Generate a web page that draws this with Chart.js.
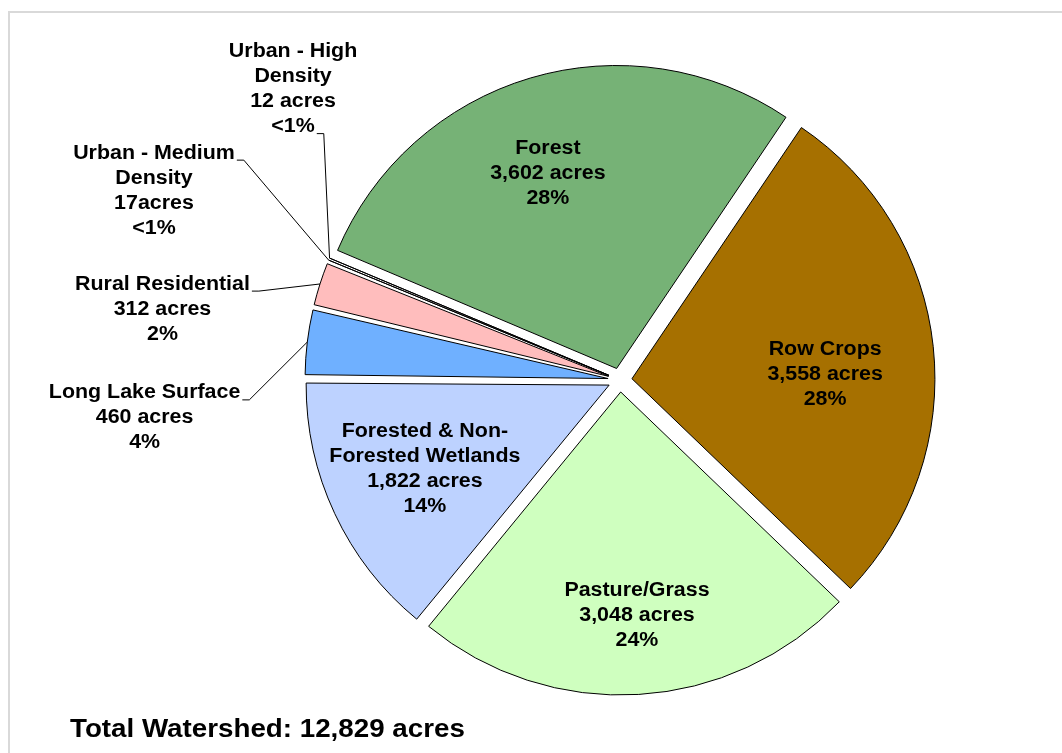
<!DOCTYPE html>
<html>
<head>
<meta charset="utf-8">
<script src="https://cdn.jsdelivr.net/npm/chart.js@4.4.0/dist/chart.umd.min.js"></script>
<style>
  html, body { margin: 0; padding: 0; background: #fff; }
  body { width: 1062px; height: 753px; position: relative; overflow: hidden; }
  #frame { position: absolute; left: 8px; top: 11px; width: 1100px; height: 800px; border: 2px solid #d9d9d9; box-sizing: border-box; }
  #landUseChart { position: absolute; left: 0; top: 0; }
</style>
</head>
<body>
<div id="frame"></div>
<canvas id="landUseChart" width="1062" height="753"></canvas>
<script>
// slices go clockwise, starting with Row Crops
const categories = [
  ['Row Crops'],
  ['Pasture/Grass'],
  ['Forested & Non-', 'Forested Wetlands'],
  ['Long Lake Surface'],
  ['Rural Residential'],
  ['Urban - Medium', 'Density'],
  ['Urban - High', 'Density'],
  ['Forest']
];
const acres = [3558, 3048, 1822, 460, 312, 17, 12, 3602];
const acreLabels = ['3,558 acres', '3,048 acres', '1,822 acres', '460 acres', '312 acres', '17acres', '12 acres', '3,602 acres'];
const sliceColors = ['#A67000', '#CFFFBF', '#BDD2FF', '#6FB0FF', '#FFBDBD', '#5A0000', '#FF0000', '#76B276'];
const totalLabel = 'Total Watershed: 12,829 acres';

const EXPLODE = 48;   // chart.js moves a slice by offset/4
const LINE_H = 25;
const STRETCH = 1.07;

// label centre as a fraction of the radius from the pie centre
const labelLayout = [
  { fx: 0.677, fy: -0.017 },
  { fx: 0.056, fy: 0.776 },
  { fx: -0.644, fy: 0.294 },
  { fx: -1.569, fy: 0.125, leader: 0 },
  { fx: -1.510, fy: -0.234, leader: 0 },
  { fx: -1.538, fy: -0.625, leader: 0 },
  { fx: -1.079, fy: -0.960, leader: 3 },
  { fx: -0.238, fy: -0.683 }
];

function growth(arc) {
  return (EXPLODE / 4) * (1 - Math.sin(Math.min(Math.PI, arc.circumference)));
}

function drawStretched(ctx, text, x, y, sx) {
  ctx.save();
  ctx.translate(x, y);
  ctx.scale(sx, 1);
  ctx.fillText(text, 0, 0);
  ctx.restore();
}

const sliceLabels = {
  id: 'sliceLabels',
  afterDatasetsUpdate(chart) {
    // chart.js grows thin exploded slices, keep them all on one radius
    chart.getDatasetMeta(0).data.forEach(arc => {
      arc.outerRadius -= growth(arc);
    });
  },
  afterDraw(chart) {
    const ctx = chart.ctx;
    const meta = chart.getDatasetMeta(0);
    const total = acres.reduce((a, b) => a + b, 0);
    ctx.save();
    ctx.font = 'bold 20px "Liberation Sans", Arial, sans-serif';
    ctx.fillStyle = '#000';
    ctx.strokeStyle = '#000';
    ctx.lineWidth = 1;
    ctx.textAlign = 'center';
    ctx.textBaseline = 'middle';
    meta.data.forEach((arc, i) => {
      const r = arc.outerRadius + growth(arc);
      const pct = acres[i] / total * 100;
      const lines = [...categories[i], acreLabels[i], pct < 1 ? '<1%' : Math.round(pct) + '%'];
      const pos = labelLayout[i];
      const cx = arc.x + pos.fx * r;
      const cy = arc.y + pos.fy * r;
      const top = cy - (lines.length - 1) * LINE_H / 2;
      lines.forEach((t, k) => drawStretched(ctx, t, cx, top + k * LINE_H, STRETCH));
      if (pos.leader !== undefined) {
        const k = pos.leader;
        const w = ctx.measureText(lines[k]).width * STRETCH;
        const sx = cx + w / 2 + 2;
        const sy = top + k * LINE_H + 7;
        const mid = (arc.startAngle + arc.endAngle) / 2;
        const tr = r + EXPLODE / 4;
        const ex = arc.x + Math.cos(mid) * tr;
        const ey = arc.y + Math.sin(mid) * tr;
        ctx.beginPath();
        ctx.moveTo(sx, sy);
        ctx.lineTo(sx + 7, sy);
        ctx.lineTo(ex, ey);
        ctx.stroke();
      }
    });
    ctx.font = 'bold 25px "Liberation Sans", Arial, sans-serif';
    ctx.textAlign = 'left';
    drawStretched(ctx, totalLabel, 70, 730, 1.11);
    ctx.restore();
  }
};

new Chart(document.getElementById('landUseChart'), {
  type: 'pie',
  data: {
    labels: categories.map(c => c.join(' ')),
    datasets: [{
      data: acres,
      backgroundColor: sliceColors,
      borderColor: '#000',
      borderWidth: 1,
      borderJoinStyle: 'miter',
      offset: EXPLODE,
      hoverOffset: 0
    }]
  },
  options: {
    responsive: false,
    animation: false,
    rotation: 34,
    events: [],
    layout: { padding: { top: 52.5, bottom: 45.5, left: 270, right: 92 } },
    plugins: {
      legend: { display: false },
      tooltip: { enabled: false }
    }
  },
  plugins: [sliceLabels]
});
</script>
</body>
</html>
